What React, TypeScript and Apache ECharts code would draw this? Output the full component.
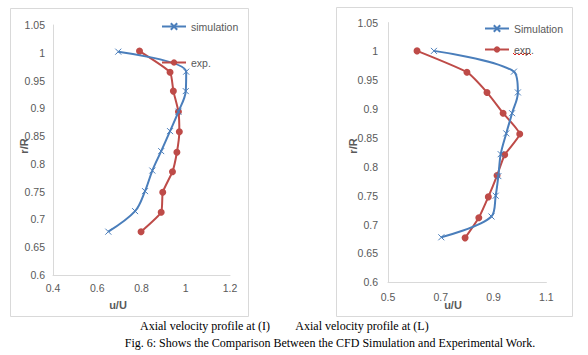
import React, { useEffect, useRef } from "react";
import * as echarts from "echarts";

// Chart (I)
const simRI = [1.002, 0.966, 0.931, 0.894, 0.859, 0.823, 0.788, 0.751, 0.715, 0.678];
const simUI = [0.695, 1.002, 1.0, 0.967, 0.929, 0.889, 0.849, 0.816, 0.771, 0.65];
const expRI = [1.003, 0.965, 0.931, 0.894, 0.858, 0.821, 0.786, 0.749, 0.713, 0.678];
const expUI = [0.791, 0.929, 0.944, 0.967, 0.971, 0.96, 0.94, 0.896, 0.889, 0.798];

// Chart (L)
const simRL = [1.001, 0.965, 0.929, 0.893, 0.858, 0.822, 0.784, 0.75, 0.714, 0.678];
const simUL = [0.674, 0.977, 0.992, 0.97, 0.948, 0.927, 0.918, 0.908, 0.892, 0.702];
const expRL = [1.001, 0.964, 0.929, 0.893, 0.857, 0.821, 0.785, 0.748, 0.712, 0.677];
const expUL = [0.61, 0.799, 0.875, 0.936, 0.999, 0.942, 0.913, 0.88, 0.844, 0.792];

const captions = [
  "Axial velocity profile at (I)",
  "Axial velocity profile at (L)",
  "Fig. 6: Shows the Comparison Between the CFD Simulation and Experimental Work.",
];

const BLUE = "#4a7ebb";
const RED = "#be4b48";
const GRAY = "#595959";
const FONT = "Liberation Sans";
const CROSS = "path://M0,0L10,10M10,0L0,10";

const pairs = (u: number[], r: number[]) => u.map((v, i) => [v, r[i]]);

export default function App() {
  const ref = useRef<HTMLDivElement>(null);
  useEffect(() => {
    document.body.style.margin = "0";
    const chart = echarts.init(ref.current!, null, { renderer: "svg" });
    const axisCommon = {
      type: "value" as const,
      axisLine: { show: true, lineStyle: { color: "#d9d9d9", width: 1 } },
      axisTick: { show: false },
      splitLine: { show: false },
      axisLabel: { color: GRAY, fontFamily: FONT, fontSize: 10.5 },
    };
    const simSeries = (name: string, idx: number, u: number[], r: number[]) => ({
      name,
      type: "line",
      xAxisIndex: idx,
      yAxisIndex: idx,
      data: pairs(u, r),
      smooth: 0.35,
      symbol: CROSS,
      symbolSize: 6,
      lineStyle: { color: BLUE, width: 2 },
      itemStyle: { color: BLUE, borderColor: BLUE, borderWidth: 1 },
      z: 3,
    });
    const expSeries = (name: string, idx: number, u: number[], r: number[]) => ({
      name,
      type: "line",
      xAxisIndex: idx,
      yAxisIndex: idx,
      data: pairs(u, r),
      smooth: 0.15,
      symbol: "circle",
      symbolSize: 7,
      lineStyle: { color: RED, width: 2 },
      itemStyle: { color: RED },
      z: 2,
    });
    const legendCommon = {
      itemWidth: 24,
      itemHeight: 8,
      itemGap: 4,
      textStyle: { color: GRAY, fontFamily: FONT, fontSize: 10.5 },
      selectedMode: false,
      padding: 0,
    };
    chart.setOption({
      animation: false,
      backgroundColor: "#ffffff",
      grid: [
        { left: 53, top: 25, width: 177, height: 250 },
        { left: 388, top: 22.6, width: 158.4, height: 259.7 },
      ],
      xAxis: [
        { ...axisCommon, gridIndex: 0, min: 0.4, max: 1.2, interval: 0.2, axisLabel: { ...axisCommon.axisLabel, margin: 7 } },
        { ...axisCommon, gridIndex: 1, min: 0.5, max: 1.1, interval: 0.2, axisLabel: { ...axisCommon.axisLabel, margin: 9 } },
      ],
      yAxis: [
        { ...axisCommon, gridIndex: 0, min: 0.6, max: 1.05, interval: 0.05, axisLabel: { ...axisCommon.axisLabel, margin: 8 } },
        { ...axisCommon, gridIndex: 1, min: 0.6, max: 1.05, interval: 0.05, axisLabel: { ...axisCommon.axisLabel, margin: 10 } },
      ],
      legend: [
        { ...legendCommon, left: 161, top: 21, data: ["simulation"] },
        { ...legendCommon, left: 161, top: 57, data: ["exp."] },
        { ...legendCommon, left: 484, top: 23, data: ["Simulation"] },
        { ...legendCommon, left: 484, top: 44, data: ["exp."] },
      ],
      series: [
        expSeries("exp.", 0, expUI, expRI),
        simSeries("simulation", 0, simUI, simRI),
        expSeries("exp.", 1, expUL, expRL),
        simSeries("Simulation", 1, simUL, simRL),
      ],
      graphic: [
        { type: "rect", shape: { x: 10.5, y: 8.5, width: 238, height: 308 }, style: { fill: "none", stroke: "#d9d9d9", lineWidth: 1 }, z: -1 },
        { type: "rect", shape: { x: 336.5, y: 7.5, width: 236, height: 309 }, style: { fill: "none", stroke: "#d9d9d9", lineWidth: 1 }, z: -1 },
        { type: "text", x: 24, y: 146, rotation: Math.PI / 2, style: { text: "r/R", fill: GRAY, font: `bold 11px ${FONT}`, align: "center", verticalAlign: "middle" } },
        { type: "text", x: 353, y: 146, rotation: Math.PI / 2, style: { text: "r/R", fill: GRAY, font: `bold 11px ${FONT}`, align: "center", verticalAlign: "middle" } },
        { type: "text", x: 118, y: 305, style: { text: "u/U", fill: GRAY, font: `bold 11px ${FONT}`, align: "center", verticalAlign: "middle" } },
        { type: "text", x: 453, y: 305, style: { text: "u/U", fill: GRAY, font: `bold 11px ${FONT}`, align: "center", verticalAlign: "middle" } },
        { type: "polyline", shape: { points: [[513, 53], [515, 55], [517, 53], [519, 55], [521, 53], [523, 55], [525, 53], [527, 55], [529, 53], [531, 55]] }, style: { stroke: "#e02020", lineWidth: 1, fill: "none" } },
        { type: "text", x: 205, y: 326, style: { text: captions[0], fill: "#000", font: `12px "Liberation Serif"`, align: "center", verticalAlign: "middle" } },
        { type: "text", x: 362, y: 326, style: { text: captions[1], fill: "#000", font: `12px "Liberation Serif"`, align: "center", verticalAlign: "middle" } },
        { type: "text", x: 330, y: 343, style: { text: captions[2], fill: "#000", font: `12px "Liberation Serif"`, align: "center", verticalAlign: "middle" } },
      ],
    });
    return () => chart.dispose();
  }, []);
  return <div ref={ref} style={{ width: 588, height: 355 }} />;
}
